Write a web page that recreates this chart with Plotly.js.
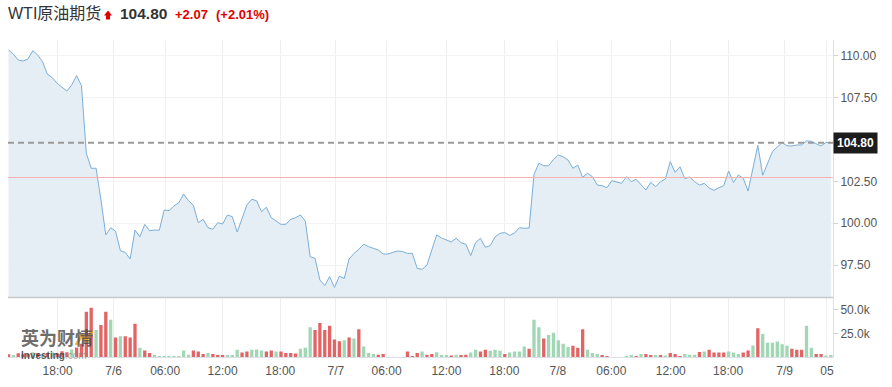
<!DOCTYPE html>
<html><head><meta charset="utf-8">
<script src="https://cdn.plot.ly/plotly-3.0.1.min.js"></script>
<style>html,body{margin:0;padding:0;background:#fff}#c{width:892px;height:387px}</style>
</head><body><div id="c"></div>
<script>
// ---- data (one entry per 30-min bar) ----
const price = [110.34,110.10,109.74,109.68,109.80,110.30,110.04,109.64,108.89,108.69,
108.35,108.11,107.89,108.25,108.81,108.21,104.17,103.28,103.28,101.39,
99.30,99.73,99.53,98.36,98.26,97.86,99.59,99.19,99.93,99.55,
99.59,99.58,100.79,100.75,101.03,101.22,101.74,101.34,101.07,100.03,
100.23,99.73,99.64,100.03,99.95,100.49,100.39,99.47,100.29,101.09,
101.43,101.34,100.69,100.95,100.33,100.15,99.93,99.93,100.23,100.33,
100.49,100.13,98.00,97.90,96.61,96.28,96.81,96.17,96.83,96.70,
97.86,98.19,98.44,98.75,98.60,98.50,98.40,98.16,98.16,98.26,
98.34,98.30,98.20,98.20,97.30,97.25,97.50,98.40,99.30,99.12,
98.98,98.88,99.10,98.84,98.74,98.07,98.84,99.10,98.56,98.66,
99.18,99.40,99.44,99.27,99.41,99.73,99.70,99.71,102.91,103.58,
103.43,103.43,103.81,104.07,103.97,103.77,103.28,103.47,102.74,102.98,
102.78,102.28,102.24,102.12,102.54,102.44,102.38,102.78,102.48,102.62,
102.32,101.98,102.44,102.18,102.48,102.64,103.67,103.04,103.37,102.66,
102.76,102.48,102.28,102.38,102.10,101.96,102.12,102.24,103.12,102.43,
102.88,102.68,101.92,103.37,104.65,102.86,103.58,104.27,104.55,104.82,
104.62,104.61,104.67,104.67,104.91,104.89,104.74,104.61,104.82,104.80];

// volume in thousands
const volume = [3,2,4,3,3,5,4,3,4,5,
4,6,5,8,10,14,47.8,52.2,28.6,34,
47.8,39.5,20.7,22.1,22.1,20.7,35.1,9.8,6.9,4.3,
2.2,1.1,1.1,1.1,1.1,1.1,6.9,2.5,6.9,5.8,
3.3,4.3,3.3,2.2,2.2,2.2,2.2,7.6,4.7,5.8,
7.6,8,6.9,5.8,6.9,5.8,5.8,4.3,4.3,3.6,
8.7,9.8,31.5,28.6,35.9,28.6,33,18.5,16.7,17.8,
20.7,19.6,29.3,11.2,4.3,3.3,2.5,3.3,0,0,
0,0,5.8,1.1,4.3,5.8,2.5,3.3,5.1,2.2,
2.2,1.5,2.5,2.2,2.5,4.7,7.6,5.8,7.6,6.5,
7.6,6.5,3.3,4.7,5.8,5.8,11.2,8.7,39.5,31.5,
19.6,23.2,25.7,17.8,14.1,10.5,12,9.8,29.3,7.6,
4.3,3.3,2.2,1.1,0,0,0,1.1,2.2,1.1,
3.3,3.3,2.2,2.2,2.2,1.5,4.3,3.3,1.1,3.3,
2.5,2.5,5.4,5.8,7.6,4.7,4.7,4.7,5.8,4.7,
3.3,4.7,6.9,12.3,30.4,24.3,15.2,15.2,16.3,13.4,
12,8.7,7.6,7.6,33,9.8,3.3,3.3,1.5,2.2];

// bar direction: 'u' up (green), 'd' down (red)
const direction = ('dudddudu'+'dudddudd'+'dduddudu'+'dddudduu'+'uuuuuudd'+'duddduuu'+'dduuuddu'+'dddduuud'+'dddddudu'+'duuudddd'+'dddddudd'+'uuududdu'+'udduuudu'+'uuuduudu'+'uuuuddduu'+'udduddu'+'ududdudu'+'ddduuudu'+'dddduuud'+'duduuuuuu'+'ddduudd'+'uuu').split('');

const tickIdx  = [10.1,21.6,32.2,44,55.85,67.3,77.7,90,101.9,112.9,123.9,136.1,147.9,159.5,168.2];
const tickText = ['18:00','7/6','06:00','12:00','18:00','7/7','06:00','12:00','18:00','7/8','06:00','12:00','18:00','7/9','05'];
const priceTicks = [97.5, 100, 102.5, 107.5, 110];
const volTicks = [25, 50];
const volTickText = ['25.0k', '50.0k'];

const lastPrice = 104.80;
const change = 2.07;
const changePct = 2.01;
const prevClose = lastPrice - change;
const titleName = 'WTI原油期货';

// ---- build ----
const idx = price.map((_, i) => i);
const barColors = volume.map((v, i) => (direction[i] || 'u') === 'd' ? '#e26464' : '#a2d7b5');

const F = 'Liberation Sans, Arial, Noto Sans CJK SC, sans-serif';
const L = 8, R = 59, T = 40, B = 30, W = 892, H = 387;
const pw = W - L - R, ph = H - T - B;
const px = x => (x - L) / pw;
const py = y => (H - B - y) / ph;
const split = py(297.5);

const traces = [
  {x: idx, y: price, type: 'scatter', mode: 'lines', fill: 'tozeroy',
   fillcolor: '#e5eef5', line: {color: '#7aaed8', width: 1}, xaxis: 'x', yaxis: 'y', hoverinfo: 'skip'},
  {x: idx, y: volume, type: 'bar', marker: {color: barColors}, width: 0.68,
   xaxis: 'x', yaxis: 'y2', hoverinfo: 'skip'}
];

const arrowPts = [[104,15.5],[108,10.5],[112,15.5],[110,15.5],[110,19.5],[106,19.5],[106,15.5]];
const arrowPath = 'M ' + arrowPts.map(p => px(p[0]) + ' ' + py(p[1])).join(' L ') + ' Z';

const layout = {
  width: W, height: H, margin: {l: L, r: R, t: T, b: B},
  paper_bgcolor: '#fff', plot_bgcolor: '#fff', showlegend: false,
  font: {family: F, size: 12, color: '#555'},
  xaxis: {anchor: 'y2', range: [-0.1, 169.45], tickvals: tickIdx, ticktext: tickText,
    showgrid: true, gridcolor: '#efefef', zeroline: false,
    showline: true, linecolor: '#dedee8', linewidth: 1,
    ticks: 'outside', ticklen: 3, tickcolor: 'rgba(0,0,0,0)',
    tickfont: {family: F, size: 12, color: '#555'}},
  yaxis: {domain: [split, 1], anchor: 'x', side: 'right', range: [95.564, 110.937],
    tickvals: priceTicks, tickformat: '.2f',
    showgrid: true, gridcolor: '#f3f3f3', zeroline: false,
    showline: true, linecolor: '#e0e0e0', ticks: 'outside', ticklen: 4, tickcolor: '#d0d0d0',
    tickfont: {family: F, size: 12, color: '#555'}},
  yaxis2: {domain: [0, split], anchor: 'x', side: 'right', range: [0, 63],
    tickvals: volTicks, ticktext: volTickText,
    showgrid: false, zeroline: false, showline: true, linecolor: '#e0e0e0',
    ticks: 'outside', ticklen: 4, tickcolor: '#d0d0d0',
    tickfont: {family: F, size: 12, color: '#555'}},
  shapes: [
    {type: 'line', xref: 'paper', yref: 'y', x0: 0, x1: 1, y0: prevClose, y1: prevClose,
     line: {color: '#f4b0b0', width: 1}},
    {type: 'line', xref: 'paper', yref: 'y', x0: 0, x1: 1, y0: lastPrice, y1: lastPrice,
     line: {color: '#9a9a9a', width: 2, dash: '6px,4px'}},
    {type: 'line', xref: 'paper', yref: 'paper', x0: 0, x1: 1, y0: split, y1: split,
     line: {color: '#c9c9c9', width: 1.5}},
    {type: 'path', xref: 'paper', yref: 'paper',
     path: `M ${px(76)} ${py(345)} L ${px(82)} ${py(335)} L ${px(86)} ${py(341)} L ${px(92)} ${py(331)}`,
     line: {color: 'rgba(245,166,35,0.85)', width: 3}},
    {type: 'path', xref: 'paper', yref: 'paper', path: arrowPath,
     fillcolor: '#e00000', line: {width: 0}}
  ],
  annotations: [
    {xref: 'paper', yref: 'paper', x: px(6), y: py(13), xanchor: 'left', yanchor: 'middle',
     text: titleName, showarrow: false, font: {family: F, size: 16, color: '#333'}},
    {xref: 'paper', yref: 'paper', x: px(118), y: py(13), xanchor: 'left', yanchor: 'middle',
     text: '<b>' + lastPrice.toFixed(2) + '</b>', showarrow: false, font: {family: F, size: 15.5, color: '#333'}},
    {xref: 'paper', yref: 'paper', x: px(173), y: py(14), xanchor: 'left', yanchor: 'middle',
     text: '<b>+' + change.toFixed(2) + '</b>', showarrow: false, font: {family: F, size: 13, color: '#e00000'}},
    {xref: 'paper', yref: 'paper', x: px(214), y: py(14), xanchor: 'left', yanchor: 'middle',
     text: '<b>(+' + changePct.toFixed(2) + '%)</b>', showarrow: false, font: {family: F, size: 13, color: '#e00000'}},
    {xref: 'paper', yref: 'y', x: px(833), y: lastPrice, xanchor: 'left', yanchor: 'middle',
     text: '<b>' + lastPrice.toFixed(2) + '</b>', showarrow: false, bgcolor: '#1c1c1c', borderpad: 3,
     font: {family: F, size: 12, color: '#fff'}},
    {xref: 'paper', yref: 'paper', x: px(20), y: py(337), xanchor: 'left', yanchor: 'middle',
     text: '<b>英为财情</b>', showarrow: false, borderpad: 0,
     font: {family: 'Noto Sans CJK SC', size: 18, color: 'rgba(70,70,70,0.8)'}},
    {xref: 'paper', yref: 'paper', x: px(20), y: py(355), xanchor: 'left', yanchor: 'middle',
     text: '<b>Investing</b><span style="color:rgba(130,130,130,0.8)">.com</span>', showarrow: false, borderpad: 0,
     font: {family: F, size: 10, color: 'rgba(60,60,60,0.85)'}}
  ]
};

Plotly.newPlot('c', traces, layout, {staticPlot: true, displayModeBar: false});
</script></body></html>
